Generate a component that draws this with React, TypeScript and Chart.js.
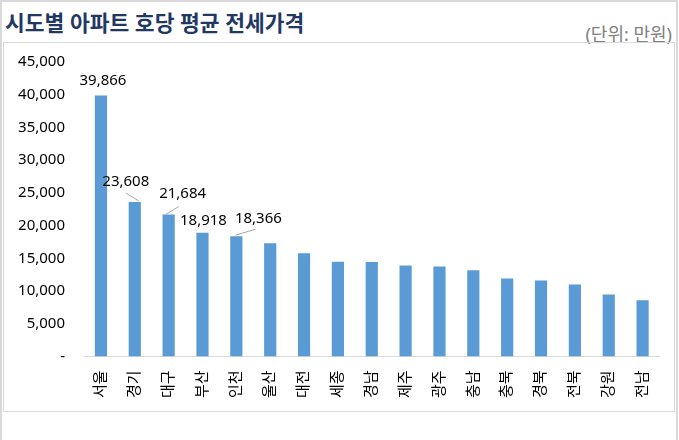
import React, { useEffect, useRef } from "react";
import { Chart, registerables } from "chart.js";

Chart.register(...registerables);

const TITLE = "시도별 아파트 호당 평균 전세가격";
const UNIT = "(단위: 만원)";
const regions = ["서울", "경기", "대구", "부산", "인천", "울산", "대전", "세종", "경남", "제주", "광주", "충남", "충북", "경북", "전북", "강원", "전남"];
const prices = [39866, 23608, 21684, 18918, 18366, 17300, 15770, 14450, 14440, 13880, 13730, 13180, 11900, 11590, 10980, 9460, 8600];
const labeledCount = 5;

const FONT = "'Noto Sans', 'Noto Sans CJK KR', sans-serif";

// label placement relative to bar top (dx, dy) and optional leader line endpoints
const labelOffsets: [number, number][] = [[2, -15], [-9, -20], [14, -21], [1, -12], [22, -18]];
const leaders: (null | [number, number, number, number])[] = [null, [4, -1, -9, -9], [-3, 0, 10, -8], null, [-1, -1, 19, -7]];

const labelPlugin = {
  id: "valueLabels",
  afterDatasetsDraw(chart: any) {
    const ctx = chart.ctx;
    const meta = chart.getDatasetMeta(0);
    ctx.save();
    for (let i = 0; i < labeledCount; i++) {
      const el = meta.data[i];
      const bx = el.x;
      const by = el.y;
      const ld = leaders[i];
      if (ld) {
        ctx.strokeStyle = "#a6a6a6";
        ctx.lineWidth = 1;
        ctx.beginPath();
        ctx.moveTo(bx + ld[0], by + ld[1]);
        ctx.lineTo(bx + ld[2], by + ld[3]);
        ctx.stroke();
      }
      const [dx, dy] = labelOffsets[i];
      ctx.fillStyle = "#000000";
      ctx.font = `15px ${FONT}`;
      ctx.textAlign = "center";
      ctx.textBaseline = "middle";
      ctx.fillText(prices[i].toLocaleString("en-US"), bx + dx, by + dy);
    }
    ctx.restore();
  },
};

export default function App() {
  const ref = useRef<HTMLCanvasElement>(null);
  useEffect(() => {
    if (!ref.current) return;
    const chart = new Chart(ref.current, {
      type: "bar",
      data: {
        labels: regions,
        datasets: [
          {
            data: prices,
            backgroundColor: "#5b9bd5",
            borderWidth: 0,
            categoryPercentage: 1,
            barPercentage: 0.36,
          },
        ],
      },
      options: {
        animation: false,
        responsive: false,
        maintainAspectRatio: false,
        layout: { padding: { top: 19, right: 14, bottom: 9, left: 0 } },
        plugins: { legend: { display: false }, tooltip: { enabled: false }, title: { display: false } },
        scales: {
          x: {
            grid: { display: false, drawTicks: false },
            border: { display: true, color: "#d9d9d9", width: 1 },
            ticks: {
              minRotation: 90,
              maxRotation: 90,
              padding: 14,
              color: "#000000",
              font: { family: FONT, size: 15 },
            },
          },
          y: {
            min: 0,
            max: 45000,
            afterFit: (s: any) => {
              s.width = 80;
              s.paddingTop = 9;
              s.paddingBottom = 9;
            },
            grid: { display: false, drawTicks: false },
            border: { display: false },
            ticks: {
              stepSize: 5000,
              padding: 19,
              color: "#000000",
              font: { family: FONT, size: 15 },
              callback: (v: any) => (Number(v) === 0 ? "-" : Number(v).toLocaleString("en-US")),
            },
          },
        },
      },
      plugins: [labelPlugin],
    });
    return () => chart.destroy();
  }, []);

  return (
    <div
      style={{
        position: "fixed",
        left: 0,
        top: 0,
        width: 679,
        height: 440,
        background: "#ffffff",
        overflow: "hidden",
        fontFamily: FONT,
      }}
    >
      <div style={{ position: "absolute", left: 0, top: 0, width: 678, height: 440, borderTop: "2px solid #d9d9d9", borderLeft: "2px solid #d9d9d9", borderRight: "2px solid #d9d9d9", boxSizing: "border-box" }} />
      <div
        style={{
          position: "absolute",
          left: 5,
          top: 8,
          fontSize: 21.5,
          fontWeight: 700,
          color: "#1f3864",
          whiteSpace: "nowrap",
          lineHeight: "30px",
        }}
      >
        {TITLE}
      </div>
      <div
        style={{
          position: "absolute",
          right: 7,
          top: 20,
          fontSize: 18,
          color: "#808080",
          whiteSpace: "nowrap",
          lineHeight: "28px",
        }}
      >
        {UNIT}
      </div>
      <div
        style={{
          position: "absolute",
          left: 3,
          top: 42,
          width: 672,
          height: 370,
          border: "1px solid #d9d9d9",
          boxSizing: "border-box",
        }}
      />
      <canvas ref={ref} width={671} height={378} style={{ position: "absolute", left: 4, top: 43, width: 671, height: 378 }} />
    </div>
  );
}
